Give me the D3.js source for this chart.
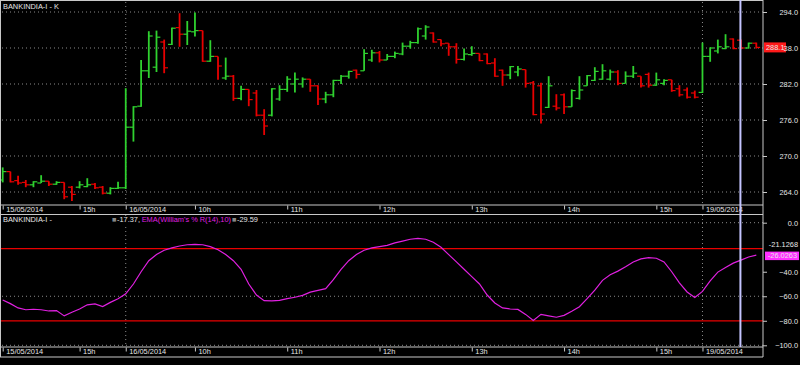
<!DOCTYPE html>
<html lang="en">
<head>
<meta charset="utf-8">
<title>BANKINDIA-I</title>
<style>
  html, body { margin: 0; padding: 0; background: #000; }
  svg { display: block; font-family: "Liberation Sans", Arial, sans-serif; }
  .txt { fill: #e6e6e6; font-size: 7.4px; }
</style>
</head>
<body>
<svg id="chart" width="800" height="365"></svg>
<script src="https://d3js.org/d3.v7.min.js"></script>
<script>
"use strict";

// 5 minute bars: 15/05 14:10 .. 15:25, 16/05 9:15 .. 15:25, 19/05 9:15 ..
var opens = [
  266.0,267.4,265.9,265.6,265.2,265.5,265.8,265.3,265.6,264.8,264.8,264.9,265.3,264.8,263.8,264.6,
  264.7,274.8,278.3,284.2,284.8,289.0,288.6,291.4,290.3,290.7,290.9,285.8,286.6,283.0,283.3,279.6,
  281.1,280.5,276.8,276.8,279.5,281.1,282.0,282.0,282.8,281.7,279.5,280.2,282.6,283.3,284.3,284.2,
  286.0,287.2,286.0,286.6,287.0,288.3,288.9,290.0,290.5,289.4,288.8,288.2,286.1,286.9,287.1,287.0,
  285.5,284.3,283.5,284.0,284.4,282.2,281.7,278.1,278.3,280.2,278.2,279.6,281.7,282.6,282.8,282.8,
  284.0,282.1,283.3,283.3,283.6,281.8,282.1,282.7,281.2,281.0,280.5,
  280.6,286.6,287.5,287.9,289.5,289.3,288.0,288.8
];
var highs = [
  268.1,267.4,266.7,266.0,265.8,266.8,265.8,265.8,265.6,265.0,265.8,266.3,265.5,265.0,264.8,265.7,
  281.3,278.3,286.0,290.8,290.9,289.4,291.4,293.8,292.5,293.9,290.9,289.3,286.6,286.4,283.5,281.7,
  281.1,281.0,277.8,281.3,281.8,283.3,283.9,283.1,282.8,281.8,280.7,282.7,283.5,284.2,284.4,287.8,
  287.7,287.5,287.0,287.4,288.9,289.2,291.4,291.8,290.6,289.4,288.8,288.8,287.9,288.3,287.1,287.1,
  286.3,284.4,285.0,285.0,284.4,282.5,282.2,283.3,280.3,280.4,281.1,283.3,283.5,284.8,285.3,284.4,
  284.3,284.1,285.0,283.3,283.9,283.9,282.8,282.7,281.8,281.4,280.9,
  288.9,288.1,289.4,290.3,289.6,289.4,288.9,288.9
];
var lows = [
  265.6,265.6,265.2,264.8,264.8,265.5,265.0,265.2,262.8,262.5,264.6,264.8,264.5,263.6,263.6,264.5,
  264.5,272.4,278.2,283.0,284.0,283.8,288.5,288.2,288.5,289.9,285.7,285.7,282.7,282.7,279.2,279.3,
  278.3,276.6,273.5,276.6,279.2,280.7,280.6,281.4,280.7,278.5,278.8,279.8,282.0,282.9,282.9,284.2,
  285.7,285.6,286.0,286.3,286.8,287.9,288.7,289.4,288.9,288.3,286.7,285.4,285.9,286.7,285.8,285.3,
  283.2,281.7,282.8,283.3,281.4,276.8,275.4,278.0,277.6,277.0,278.2,279.4,281.7,282.5,282.7,282.6,
  281.8,282.1,283.0,281.4,281.4,281.7,281.8,280.7,279.9,279.6,279.6,
  280.5,285.7,287.1,287.8,287.8,287.8,287.9,287.9
];
var closes = [
  267.4,265.7,265.5,265.2,265.7,265.8,265.3,265.6,263.2,263.6,265.2,265.2,264.7,263.8,264.6,264.7,
  274.8,278.2,284.2,290.0,289.8,284.7,291.3,290.3,290.8,290.9,285.8,286.6,285.0,283.3,279.6,281.1,
  279.4,276.8,275.0,281.2,281.1,282.8,282.8,282.8,281.7,279.5,280.2,282.6,283.3,284.1,283.6,287.1,
  287.2,286.0,286.6,287.1,288.3,288.9,291.2,291.5,289.0,288.7,288.2,286.1,287.0,287.1,285.9,285.4,
  283.3,283.5,284.9,284.5,282.1,276.9,277.0,281.7,278.0,278.2,280.9,281.0,283.4,284.1,284.2,284.0,
  282.1,283.3,283.8,281.7,281.8,282.7,282.6,280.9,280.2,279.8,279.8,
  286.6,288.0,288.2,288.2,287.9,288.0,288.8,288.1
];
// EMA(William's %R(14),10)
var emaWR = [
  -63.0,-66.0,-69.5,-71.0,-70.6,-71.0,-72.0,-71.7,-76.0,-73.0,-70.4,-67.0,-66.3,-68.4,-65.0,-62.0,
  -58.0,-50.0,-40.0,-31.0,-26.0,-22.5,-20.5,-19.0,-18.0,-17.6,-18.0,-19.5,-22.0,-26.0,-31.0,-38.0,
  -50.0,-59.0,-63.6,-63.8,-63.4,-62.0,-60.8,-59.3,-56.6,-55.2,-53.8,-46.5,-38.0,-31.0,-26.0,-22.5,
  -20.5,-19.5,-18.5,-16.5,-15.0,-13.5,-12.8,-13.5,-16.0,-20.0,-26.0,-32.0,-38.0,-44.0,-50.0,-59.0,
  -65.5,-69.5,-70.4,-70.7,-74.8,-79.8,-74.8,-76.0,-77.1,-75.6,-72.2,-68.5,-62.0,-55.0,-47.0,-42.5,
  -39.5,-36.0,-32.0,-29.5,-28.5,-29.0,-32.0,-40.0,-49.0,-56.5,-61.0,
  -56.0,-47.5,-40.3,-36.5,-33.0,-30.5,-28.0,-26.5
];

var timeTickIdx = [0, 10, 16, 25, 37, 49, 61, 73, 85, 91];
var timeTickLabels = ["15/05/2014", "15h", "16/05/2014", "10h", "11h", "12h", "13h", "14h", "15h", "19/05/2014"];
var dayStartIdx = [16, 91];
var priceTicks = [294, 288, 282, 276, 270, 264];
var wrTicks = [0, -40, -60, -80, -100];
var wrGrid = [0, -60, -100];
var wrLevels = [-21.1268, -80];
var cursorIdx = 96;
var cursorWR = -17.37, cursorEma = -29.59;
var lastPrice = 288.1;
var lastWR = -26.0263;

var green = "#2fd12f", red = "#e80000", magenta = "#e020e0", frame = "#c8c8c8";
var n = closes.length;
var svg = d3.select("#chart");
var right = 763;

var x = d3.scalePoint().domain(d3.range(n)).range([2.7, 756.3]);
var yP = d3.scaleLinear().domain([264, 294]).range([192, 12]);
var yW = d3.scaleLinear().domain([-100, 0]).range([345.3, 222.7]);
var half = x.step() / 2;

svg.append("rect").attr("width", 800).attr("height", 365).attr("fill", "#000");

// grid
var grid = svg.append("g").attr("stroke", "#8a8a8a").attr("stroke-dasharray", "1,3");
grid.selectAll(".gp").data(priceTicks).join("line")
  .attr("x1", 2).attr("x2", right).attr("y1", function(d){ return yP(d); }).attr("y2", function(d){ return yP(d); });
grid.selectAll(".gw").data(wrGrid).join("line").attr("class", "gw")
  .attr("x1", 2).attr("x2", right).attr("y1", function(d){ return yW(d); }).attr("y2", function(d){ return yW(d); });
dayStartIdx.forEach(function(i){
  grid.append("line").attr("x1", x(i)).attr("x2", x(i)).attr("y1", 2).attr("y2", 205);
  grid.append("line").attr("x1", x(i)).attr("x2", x(i)).attr("y1", 215).attr("y2", 347);
});

// OHLC bars
var bars = svg.append("g").selectAll("g").data(d3.range(n)).join("g")
  .attr("stroke", function(i){ return closes[i] >= opens[i] ? green : red; });
bars.append("line").attr("stroke-width", 1.8)
  .attr("x1", function(i){ return x(i); }).attr("x2", function(i){ return x(i); })
  .attr("y1", function(i){ return yP(highs[i]); }).attr("y2", function(i){ return yP(lows[i]); });
bars.append("line").attr("stroke-width", 1.2)
  .attr("x1", function(i){ return x(i) - half; }).attr("x2", function(i){ return x(i); })
  .attr("y1", function(i){ return yP(opens[i]); }).attr("y2", function(i){ return yP(opens[i]); });
bars.append("line").attr("stroke-width", 1.2)
  .attr("x1", function(i){ return x(i); }).attr("x2", function(i){ return x(i) + half; })
  .attr("y1", function(i){ return yP(closes[i]); }).attr("y2", function(i){ return yP(closes[i]); });

// %R levels and EMA line
svg.append("g").selectAll("line").data(wrLevels).join("line")
  .attr("x1", 1).attr("x2", right).attr("stroke", red).attr("stroke-width", 1.3)
  .attr("y1", function(d){ return yW(d); }).attr("y2", function(d){ return yW(d); });
svg.append("path").datum(emaWR)
  .attr("fill", "none").attr("stroke", magenta).attr("stroke-width", 1.2)
  .attr("d", d3.line().x(function(d, i){ return x(i); }).y(function(d){ return yW(d); }));

// frame and time strips
var fr = svg.append("g").attr("stroke", frame).attr("fill", "none");
[0.5, 205, 214.5, 347, 357].forEach(function(y){
  fr.append("line").attr("x1", 0).attr("x2", right).attr("y1", y).attr("y2", y);
});
fr.append("line").attr("x1", 0.5).attr("x2", 0.5).attr("y1", 0).attr("y2", 357);
fr.append("line").attr("x1", right).attr("x2", right).attr("y1", 0).attr("y2", 357);

function timeAxis(y0) {
  var g = svg.append("g").attr("transform", "translate(0," + y0 + ")")
    .call(d3.axisBottom(x).tickValues(timeTickIdx).tickSize(4)
      .tickFormat(function(d, i){ return timeTickLabels[i]; }));
  g.select(".domain").remove();
  g.selectAll(".tick line").attr("stroke", frame);
  g.selectAll(".tick text").attr("class", "txt").attr("text-anchor", "start")
    .attr("x", 3).attr("y", 6.5).attr("dy", null).attr("fill", null)
    .style("font-size", "7.4px").style("font-family", "Liberation Sans, Arial, sans-serif");
}
timeAxis(205.5);
timeAxis(347.5);

function valueAxis(scale, ticks) {
  var g = svg.append("g").attr("transform", "translate(" + right + ",0)")
    .call(d3.axisRight(scale).tickValues(ticks).tickSize(4).tickFormat(d3.format(".1f")));
  g.select(".domain").remove();
  g.selectAll(".tick line").attr("stroke", frame);
  g.selectAll(".tick text").attr("class", "txt").attr("text-anchor", "end")
    .attr("x", 35).attr("fill", null)
    .style("font-size", "7.4px").style("font-family", "Liberation Sans, Arial, sans-serif");
}
valueAxis(yP, priceTicks.filter(function(d){ return Math.abs(d - lastPrice) > 1; }));
valueAxis(yW, wrTicks);

// value tags (the price tag sits over the 288.0 label, as in the source)
svg.append("rect").attr("x", 764).attr("y", yP(lastPrice) - 5).attr("width", 22).attr("height", 10).attr("fill", "#ff1a1a");
svg.append("text").attr("class", "txt").attr("x", 766).attr("y", yP(lastPrice) + 2.8).attr("fill", "#fff").text(lastPrice.toFixed(1));
svg.append("text").attr("class", "txt").attr("x", 798).attr("y", yP(288) + 2.8).attr("text-anchor", "end").text("38.0");
svg.append("text").attr("class", "txt").attr("x", 798).attr("y", yW(wrLevels[0]) - 1.5).attr("text-anchor", "end").text(wrLevels[0].toFixed(4));
svg.append("rect").attr("x", 765).attr("y", yW(lastWR) - 3).attr("width", 34).attr("height", 8.5).attr("fill", "#ff30ff");
svg.append("text").attr("class", "txt").attr("x", 797).attr("y", yW(lastWR) + 3.6).attr("text-anchor", "end").attr("fill", "#fff").text(lastWR.toFixed(4));

// cursor
svg.append("line").attr("x1", x(cursorIdx) - 0.5).attr("x2", x(cursorIdx) - 0.5).attr("y1", 0).attr("y2", 347)
  .attr("stroke", "#c4c4ff").attr("stroke-width", 2);

// titles
svg.append("text").attr("class", "txt").attr("x", 3).attr("y", 8.5).text("BANKINDIA-I - K");
svg.append("rect").attr("x", 1).attr("y", 216).attr("width", 259).attr("height", 9).attr("fill", "#000");
var t = svg.append("text").attr("class", "txt").attr("x", 3).attr("y", 222.3);
t.append("tspan").text("BANKINDIA-I -");
t.append("tspan").attr("x", 112).attr("fill", "#888").text("\u25A0");
t.append("tspan").attr("x", 117).text(cursorWR.toFixed(2) + ",");
t.append("tspan").attr("x", 141.7).attr("fill", magenta).text("EMA(William's % R(14),10)");
t.append("tspan").attr("x", 232).attr("fill", "#888").text("\u25A0");
t.append("tspan").attr("x", 237).text(cursorEma.toFixed(2));
</script>
</body>
</html>
